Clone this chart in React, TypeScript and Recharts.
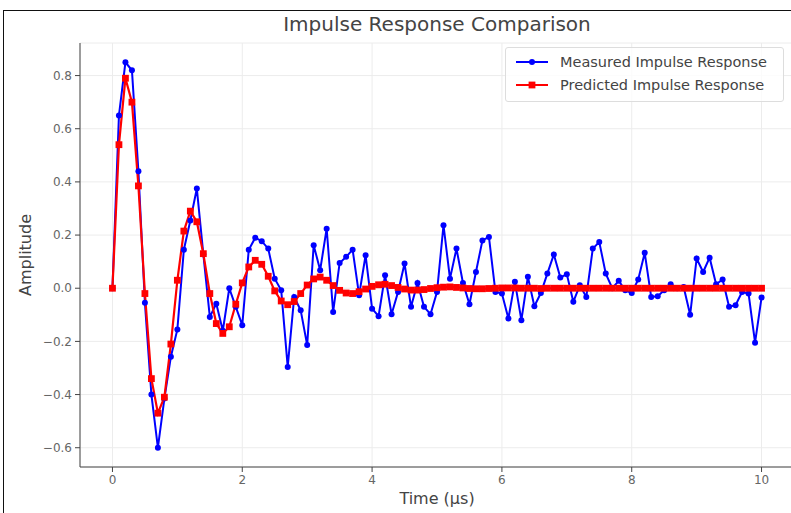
import React from "react";
import { LineChart, Line, XAxis, YAxis, CartesianGrid } from "recharts";

// time axis, microseconds
const timeUs = [
  0, 0.1, 0.2, 0.3, 0.4, 0.5, 0.6, 0.7, 0.8, 0.9,
  1, 1.1, 1.2, 1.3, 1.4, 1.5, 1.6, 1.7, 1.8, 1.9,
  2, 2.1, 2.2, 2.3, 2.4, 2.5, 2.6, 2.7, 2.8, 2.9,
  3, 3.1, 3.2, 3.3, 3.4, 3.5, 3.6, 3.7, 3.8, 3.9,
  4, 4.1, 4.2, 4.3, 4.4, 4.5, 4.6, 4.7, 4.8, 4.9,
  5, 5.1, 5.2, 5.3, 5.4, 5.5, 5.6, 5.7, 5.8, 5.9,
  6, 6.1, 6.2, 6.3, 6.4, 6.5, 6.6, 6.7, 6.8, 6.9,
  7, 7.1, 7.2, 7.3, 7.4, 7.5, 7.6, 7.7, 7.8, 7.9,
  8, 8.1, 8.2, 8.3, 8.4, 8.5, 8.6, 8.7, 8.8, 8.9,
  9, 9.1, 9.2, 9.3, 9.4, 9.5, 9.6, 9.7, 9.8, 9.9,
  10,
];

const measured = [
  0, 0.65, 0.85, 0.82, 0.44, -0.055, -0.4, -0.6, -0.415, -0.258,
  -0.155, 0.145, 0.255, 0.375, 0.128, -0.108, -0.058, -0.16, 0.0, -0.07,
  -0.139, 0.145, 0.19, 0.177, 0.149, 0.036, -0.008, -0.296, -0.033, -0.083,
  -0.214, 0.162, 0.068, 0.224, -0.089, 0.095, 0.118, 0.145, -0.026, 0.124,
  -0.077, -0.105, 0.049, -0.098, -0.014, 0.093, -0.07, 0.02, -0.07, -0.098,
  -0.014, 0.237, 0.036, 0.149, 0.02, -0.06, 0.061, 0.18, 0.193, -0.014,
  -0.02, -0.114, 0.024, -0.12, 0.043, -0.068, -0.018, 0.055, 0.127, 0.04,
  0.053, -0.051, 0.011, -0.033, 0.149, 0.174, 0.055, 0.0, 0.028, -0.008,
  -0.018, 0.033, 0.133, -0.033, -0.03, -0.008, 0.015, 0.0, 0.005, -0.1,
  0.112, 0.061, 0.115, 0.015, 0.033, -0.07, -0.064, -0.014, -0.02, -0.205,
  -0.035,
];

const predicted = [
  0, 0.54, 0.79, 0.7, 0.385, -0.02, -0.34, -0.47, -0.41, -0.21,
  0.03, 0.215, 0.29, 0.25, 0.13, -0.02, -0.133, -0.17, -0.145, -0.06,
  0.02, 0.08, 0.105, 0.09, 0.045, -0.01, -0.048, -0.062, -0.05, -0.02,
  0.012, 0.035, 0.042, 0.03, 0.01, -0.008, -0.018, -0.02, -0.013, -0.003,
  0.007, 0.013, 0.015, 0.01, 0.003, -0.003, -0.007, -0.007, -0.005, -0.001,
  0.002, 0.004, 0.005, 0.003, 0.001, -0.001, -0.002, -0.002, -0.001, 0,
  0.001, 0.001, 0.001, 0, 0, 0, -0.001, 0, 0, 0,
  0, 0, 0, 0, 0, 0, 0, 0, 0, 0,
  0, 0, 0, 0, 0, 0, 0, 0, 0, 0,
  0, 0, 0, 0, 0, 0, 0, 0, 0, 0,
  0,
];

const xTicks = [0, 2, 4, 6, 8, 10];
const yTicks = [-0.6, -0.4, -0.2, 0, 0.2, 0.4, 0.6, 0.8];

const data = timeUs.map((t, i) => ({ t, measured: measured[i], predicted: predicted[i] }));

const FONT = "'DejaVu Sans', sans-serif";

const fmtY = (v: number) => {
  const s = Math.abs(v).toFixed(1);
  return v < -0.0001 ? "\u2212" + s : s;
};

const SquareDot = (p: any) => {
  if (p.cx == null || p.cy == null) return null;
  return <rect key={"sq" + p.index} x={p.cx - 3.4} y={p.cy - 3.4} width={6.8} height={6.8} fill="#ff0000" />;
};

const App = () => {
  return (
    <div style={{ position: "absolute", left: 0, top: 0, width: 791, height: 513, overflow: "hidden", background: "#fff" }}>
      <div style={{ position: "absolute", left: 3, top: 10, width: 900, height: 600, borderLeft: "1px solid #111", borderTop: "1px solid #111" }} />
      <div style={{ position: "absolute", left: 80, width: 714, top: 12, textAlign: "center", fontFamily: FONT, fontSize: 20, color: "#444" }}>
        Impulse Response Comparison
      </div>
      <div style={{ position: "absolute", left: 0, top: 0 }}>
        <LineChart width={850} height={513} data={data} margin={{ top: 43, right: 56, bottom: 0, left: 0 }}>
          <CartesianGrid stroke="#ececec" strokeWidth={1} />
          <XAxis
            dataKey="t"
            type="number"
            domain={[-0.5, 10.5]}
            ticks={xTicks}
            height={46}
            tickSize={5}
            tickMargin={3}
            stroke="#444"
            tick={{ fill: "#666", fontSize: 12, fontFamily: FONT }}
            label={{ value: "Time (\u00b5s)", position: "insideBottom", offset: 9, fill: "#444", fontSize: 16, fontFamily: FONT }}
          />
          <YAxis
            type="number"
            domain={[-0.6725, 0.9225]}
            ticks={yTicks}
            width={80}
            tickSize={5}
            tickMargin={3}
            stroke="#444"
            tickFormatter={fmtY}
            tick={{ fill: "#666", fontSize: 12, fontFamily: FONT }}
            label={{ value: "Amplitude", angle: -90, position: "insideLeft", offset: 25, fill: "#444", fontSize: 16, fontFamily: FONT, style: { textAnchor: "middle" } }}
          />
          <Line
            dataKey="measured"
            stroke="#0000ff"
            strokeWidth={2}
            dot={{ r: 3, fill: "#0000ff", stroke: "#0000ff", strokeWidth: 0 }}
            activeDot={false}
            isAnimationActive={false}
          />
          <Line
            dataKey="predicted"
            stroke="#ff0000"
            strokeWidth={2.2}
            dot={SquareDot}
            activeDot={false}
            isAnimationActive={false}
          />
        </LineChart>
      </div>
      <div style={{ position: "absolute", left: 505, top: 47, width: 277, height: 53, border: "1px solid #ddd", borderRadius: 3, background: "rgba(255,255,255,0.8)", fontFamily: FONT, fontSize: 14.5, color: "#444" }}>
        <div style={{ position: "absolute", left: 10, top: 6, display: "flex", alignItems: "center" }}>
          <svg width={32} height={14}>
            <line x1={0} y1={7} x2={32} y2={7} stroke="#0000ff" strokeWidth={2} />
            <circle cx={16} cy={7} r={3} fill="#0000ff" />
          </svg>
          <span style={{ marginLeft: 12 }}>Measured Impulse Response</span>
        </div>
        <div style={{ position: "absolute", left: 10, top: 29, display: "flex", alignItems: "center" }}>
          <svg width={32} height={14}>
            <line x1={0} y1={7} x2={32} y2={7} stroke="#ff0000" strokeWidth={2} />
            <rect x={12.6} y={3.6} width={6.8} height={6.8} fill="#ff0000" />
          </svg>
          <span style={{ marginLeft: 12 }}>Predicted Impulse Response</span>
        </div>
      </div>
    </div>
  );
};

export default App;
